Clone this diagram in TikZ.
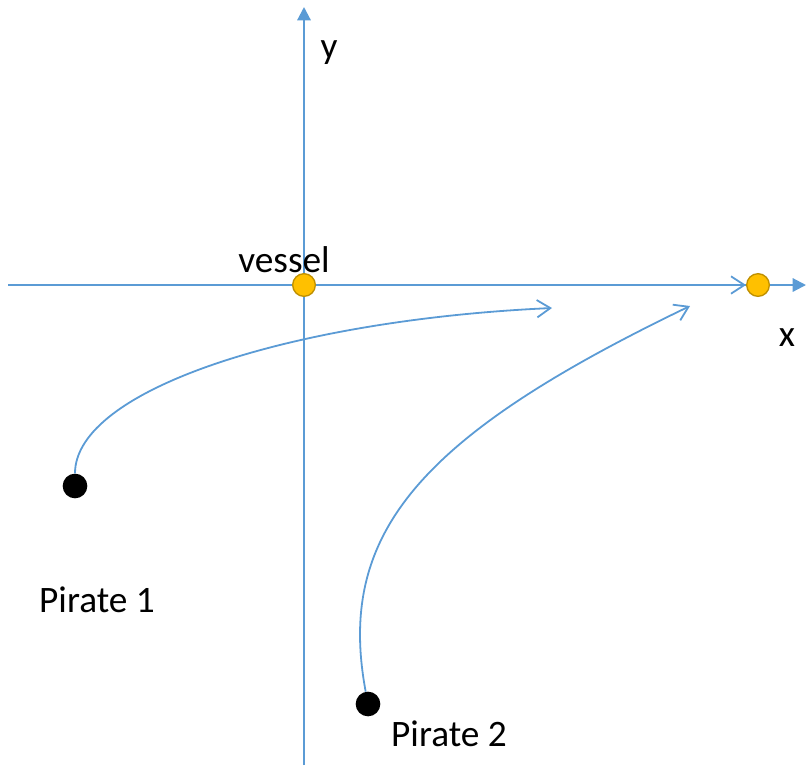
\documentclass[tikz,border=0pt]{standalone}
\usepackage{fontspec}
\setmainfont{Carlito}
\usetikzlibrary{arrows.meta}
\definecolor{axisblue}{HTML}{5B9BD5}
\definecolor{gold}{HTML}{FFC000}
\definecolor{golddark}{HTML}{BF9000}
\begin{document}
\begin{tikzpicture}[x=0.75pt,y=-0.75pt,
  axis/.style={draw=axisblue,line width=1.6pt,-{Triangle[length=10pt,width=10pt]}},
  flow/.style={draw=axisblue,line width=1.35pt,-{Straight Barb[length=10pt,width=13pt,line width=1.35pt]}},
  ship/.style={circle,fill=gold,draw=golddark,line width=1pt,minimum size=17pt,inner sep=0pt},
  pirate/.style={circle,fill=black,minimum size=18.5pt,inner sep=0pt},
  lbl/.style={font=\fontsize{28}{32}\selectfont,inner sep=0pt}]
\useasboundingbox (0,0) rectangle (806,765);
% axes
\coordinate (xl) at (8,285);
\coordinate (xr) at (806,285);
\coordinate (yb) at (304,765);
\coordinate (yt) at (304,7);
\draw[axis] (xl) -- (xr);
\draw[axis] (yb) -- (yt);
% vessel positions
\node[ship] (o) at (304,285) {};
\node[ship] (v2) at (758,285) {};
\draw[flow] (o) -- (v2);
% pirates
\node[pirate] (p1) at (75,486) {};
\node[pirate] (p2) at (368,704) {};
\coordinate (e1) at (552,308);
\coordinate (e2) at (690,306);
\draw[flow] (p1) .. controls (75,390) and (290,320) .. (e1);
\draw[flow] (p2) .. controls (336,533) and (420,436) .. (e2);
% labels
\node[lbl] (ly) at (329,53) {y};
\node[lbl] (lx) at (787,338) {x};
\node[lbl] (lv) at (284,260) {vessel};
\node[lbl] (l1) at (97,600) {Pirate 1};
\node[lbl] (l2) at (449,734) {Pirate 2};
\end{tikzpicture}
\end{document}
